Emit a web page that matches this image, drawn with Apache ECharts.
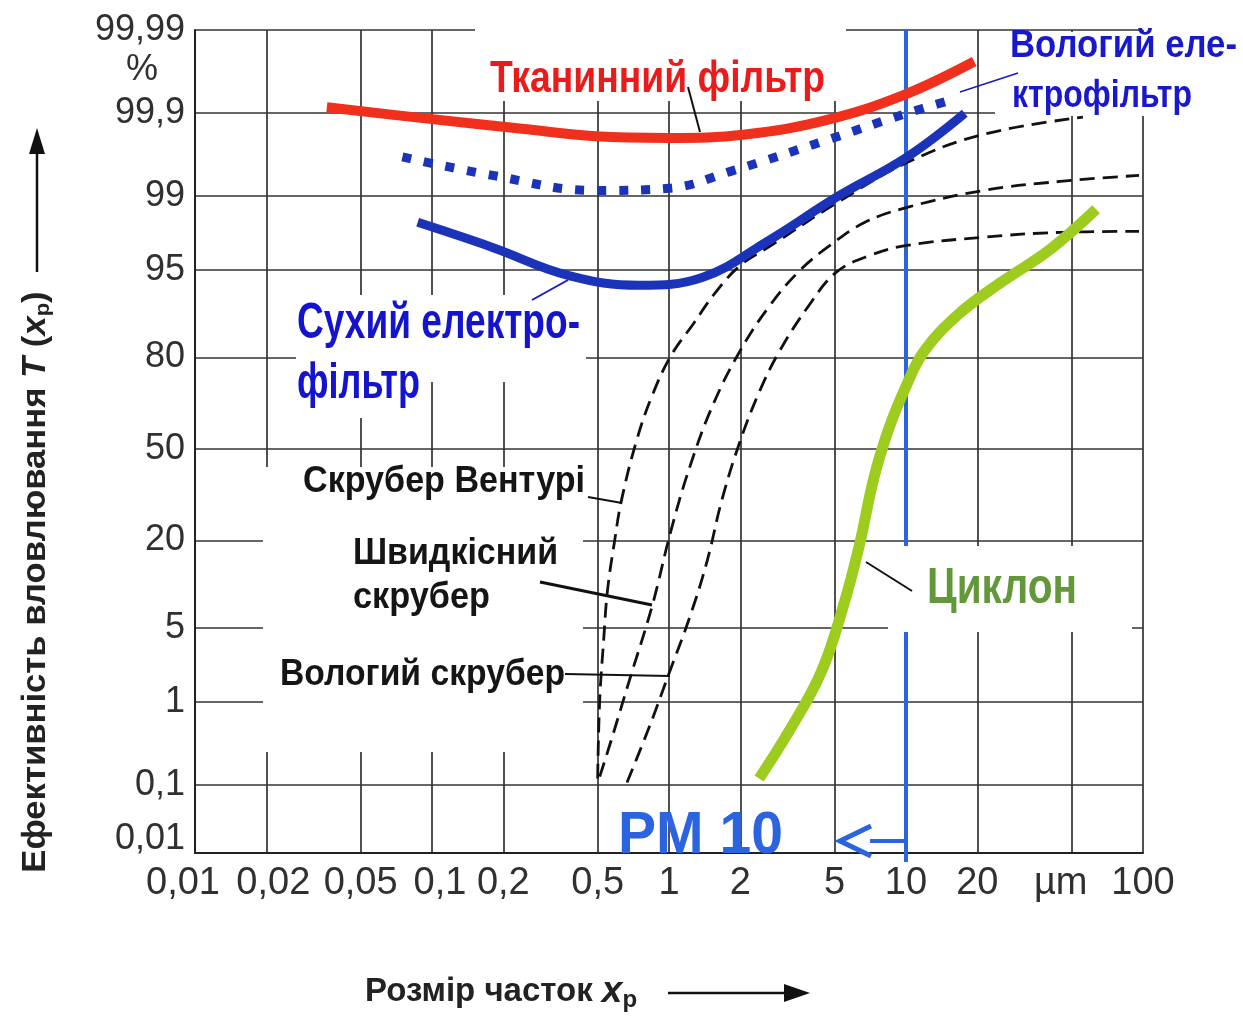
<!DOCTYPE html>
<html><head><meta charset="utf-8">
<script src="https://cdn.jsdelivr.net/npm/echarts@6/dist/echarts.min.js"></script>
<style>html,body{margin:0;padding:0;background:#fff}#c{width:1243px;height:1016px}</style>
</head><body><div id="c"></div><script>
// ---------------- DATA ----------------
const sizeTicks = [0.01, 0.02, 0.05, 0.1, 0.2, 0.5, 1, 2, 5, 10, 20, 50, 100];
const sizeTickLabels = ['0,01', '0,02', '0,05', '0,1', '0,2', '0,5', '1', '2', '5', '10', '20', 'µm', '100'];
const effTicks = [0.01, 0.1, 1, 5, 20, 50, 80, 95, 99, 99.9, 99.99];
const effTickLabels = ['0,01', '0,1', '1', '5', '20', '50', '80', '95', '99', '99,9', '99,99'];

// Тканинний фільтр
const fabricSize = [0.036, 0.10, 0.24, 0.49, 1.0, 2.1, 4.6, 9.7, 19.4];
const fabricEff  = [99.914, 99.88, 99.84, 99.80, 99.79, 99.81, 99.876, 99.937, 99.975];
// Вологий електрофільтр
const wetEspSize = [0.075, 0.18, 0.49, 1.0, 1.86, 4.6, 10.1, 15.6];
const wetEspEff  = [99.64, 99.41, 99.13, 99.18, 99.48, 99.775, 99.90, 99.929];
// Сухий електрофільтр
const dryEspSize = [0.087, 0.18, 0.375, 0.75, 1.38, 2.64, 5.07, 10.1, 17.7];
const dryEspEff  = [98.15, 96.82, 94.50, 93.40, 94.28, 97.26, 98.97, 99.64, 99.90];
// Скрубер Вентурі
const venturiSize = [0.50, 0.51, 0.53, 0.55, 0.59, 0.63, 0.73, 0.85, 1.02, 1.27, 1.56, 2.0, 2.67, 5.07, 10.1, 21.1, 55.8];
const venturiEff  = [0.121, 1.03, 3.9, 9.6, 20, 31.8, 53.1, 68.9, 80.5, 87.6, 92.4, 95.45, 96.9, 98.81, 99.58, 99.81, 99.887];
// Швидкісний скрубер
const highSpeedSize = [0.51, 0.57, 0.68, 0.85, 1.02, 1.23, 1.53, 2.0, 2.67, 3.57, 4.78, 6.71, 10.1, 21.1, 44.7, 96.2];
const highSpeedEff  = [0.128, 0.364, 1.65, 7.48, 22.7, 44.0, 65.6, 81.8, 90.7, 94.99, 96.95, 98.15, 98.69, 99.13, 99.31, 99.41];
// Вологий скрубер
const wetScrubSize = [0.665, 0.83, 1.0, 1.23, 1.45, 1.67, 2.0, 2.42, 2.94, 3.90, 5.07, 7.05, 10.1, 21.1, 44.7, 96.2];
const wetScrubEff  = [0.107, 0.545, 1.94, 6.26, 15.2, 31.8, 53.1, 70.5, 81.8, 90.7, 94.79, 96.26, 96.95, 97.43, 97.69, 97.74];
// Циклон
const cycloneSize = [2.40, 3.24, 4.38, 5.42, 6.34, 7.33, 8.47, 9.91, 11.9, 16.6, 25.2, 40.6, 63.4];
const cycloneEff  = [0.121, 0.49, 1.98, 7.23, 18.5, 39.7, 57.5, 71.1, 81.5, 89.2, 93.74, 96.69, 98.63];
// PM 10 boundary
const pm10Size = 10;

// ---------------- SCALES ----------------
function probit(p){
  const a=[-3.969683028665376e+01,2.209460984245205e+02,-2.759285104469687e+02,1.383577518672690e+02,-3.066479806614716e+01,2.506628277459239e+00];
  const b=[-5.447609879822406e+01,1.615858368580409e+02,-1.556989798598866e+02,6.680131188771972e+01,-1.328068155288572e+01];
  const c=[-7.784894002430293e-03,-3.223964580411365e-01,-2.400758277161838e+00,-2.549732539343734e+00,4.374664141464968e+00,2.938163982698783e+00];
  const d=[7.784695709041462e-03,3.224671290700398e-01,2.445134137142996e+00,3.754408661907416e+00];
  const pl=0.02425, ph=1-pl; let q,r;
  if(p<pl){q=Math.sqrt(-2*Math.log(p));return (((((c[0]*q+c[1])*q+c[2])*q+c[3])*q+c[4])*q+c[5])/((((d[0]*q+d[1])*q+d[2])*q+d[3])*q+1);}
  if(p<=ph){q=p-0.5;r=q*q;return (((((a[0]*r+a[1])*r+a[2])*r+a[3])*r+a[4])*r+a[5])*q/(((((b[0]*r+b[1])*r+b[2])*r+b[3])*r+b[4])*r+1);}
  q=Math.sqrt(-2*Math.log(1-p));return -(((((c[0]*q+c[1])*q+c[2])*q+c[3])*q+c[4])*q+c[5])/((((d[0]*q+d[1])*q+d[2])*q+d[3])*q+1);
}
// probability scale (the chart's top decade 99.9–99.99 is drawn stretched)
const Z999 = probit(0.999), TOP_STRETCH = 1.218;
const U = p => { const z = probit(p / 100); return z > Z999 ? Z999 + (z - Z999) * TOP_STRETCH : z; };
const X = s => Math.log10(s);
const xTickU = sizeTicks.map(X);
const yTickU = effTicks.map(U);
const pts = (sz, ef) => sz.map((s, i) => [X(s), U(ef[i])]);

const FONT = '"Liberation Sans", Arial, sans-serif';
const LBL = '#303030';

const xShift = {'0,01': -12, '0,02': 7, '0,1': 8, 'µm': -11};
const xRich = {};
Object.keys(xShift).forEach((k, i) => {
  const dx = xShift[k];
  xRich['s' + i] = {fontSize: 38, fontFamily: FONT, color: LBL, padding: dx < 0 ? [0, -2 * dx, 0, 0] : [0, 0, 0, 2 * dx]};
});
const xKeys = Object.keys(xShift);

const mk = (name, data, color, width, type, z, smooth) => ({
  type: 'line', name, data, smooth: smooth == null ? 0.4 : smooth, symbol: 'none', showSymbol: false,
  lineStyle: {color, width, type, cap: 'butt', join: 'round'}, z, silent: true, animation: false
});

const chart = echarts.init(document.getElementById('c'));
chart.setOption({
  animation: false,
  backgroundColor: '#fff',
  grid: {left: 195, right: 100, top: 30, bottom: 163, containLabel: false, outerBoundsMode: 'none'},
  xAxis: {
    type: 'value', min: -2, max: 2,
    axisLine: {show: true, onZero: false, lineStyle: {color: '#222', width: 2}},
    axisTick: {show: false, customValues: xTickU},
    axisLabel: {
      customValues: xTickU, fontSize: 38, fontFamily: FONT, color: LBL, margin: 12, rich: xRich,
      formatter: v => {
        const i = xTickU.findIndex(t => Math.abs(t - v) < 1e-6);
        const t = sizeTickLabels[i];
        const k = xKeys.indexOf(t);
        return k >= 0 ? '{s' + k + '|' + t + '}' : t;
      }
    },
    splitLine: {show: true, lineStyle: {color: '#333', width: 1.7}}
  },
  yAxis: {
    type: 'value', min: U(0.01), max: U(99.99),
    axisLine: {show: true, onZero: false, lineStyle: {color: '#222', width: 2}},
    axisTick: {show: false, customValues: yTickU},
    axisLabel: {
      customValues: yTickU, fontSize: 36, fontFamily: FONT, color: LBL, margin: 10,
      rich: {lift: {fontSize: 36, fontFamily: FONT, color: LBL, padding: [0, 0, 28, 0]}},
      formatter: v => {
        const i = yTickU.findIndex(t => Math.abs(t - v) < 1e-6);
        return i === 0 ? '{lift|' + effTickLabels[i] + '}' : effTickLabels[i];
      }
    },
    splitLine: {show: true, lineStyle: {color: '#333', width: 1.7}}
  },
  series: [
    mk('Скрубер Вентурі', pts(venturiSize, venturiEff), '#111', 2.8, [15, 8], 2),
    mk('Швидкісний скрубер', pts(highSpeedSize, highSpeedEff), '#111', 2.8, [15, 8], 2),
    mk('Вологий скрубер', pts(wetScrubSize, wetScrubEff), '#111', 2.8, [15, 8], 2),
    mk('Циклон', pts(cycloneSize, cycloneEff), '#9dcc1e', 11, 'solid', 3),
    mk('Сухий електрофільтр', pts(dryEspSize, dryEspEff), '#1b33b9', 9, 'solid', 4),
    mk('Вологий електрофільтр', pts(wetEspSize, wetEspEff), '#1b33b9', 9, [9, 13], 5),
    mk('Тканинний фільтр', pts(fabricSize, fabricEff), '#f0301c', 10, 'solid', 6)
  ]
});

// ---------------- ANNOTATIONS ----------------
const mctx = document.createElement('canvas').getContext('2d');
function txt(t, x, base, size, w, color, weight) {
  weight = weight || 'bold';
  const font = weight + ' ' + size + 'px "Liberation Sans"';
  mctx.font = font;
  const sx = w / mctx.measureText(t).width;
  return {type: 'text', x, y: base - 0.3465 * size, scaleX: sx, z: 10, silent: true,
    style: {text: t, font, fill: color, align: 'left', verticalAlign: 'middle'}};
}
const rect = (x, y, w, h) => ({type: 'rect', z: 1.5, silent: true, shape: {x, y, width: w, height: h}, style: {fill: '#fff'}});
const seg = (x1, y1, x2, y2, color, lw, z) => ({type: 'line', z: z || 10, silent: true, shape: {x1, y1, x2, y2}, style: {stroke: color, lineWidth: lw}});

const xp = chart.convertToPixel({xAxisIndex: 0}, X(pm10Size));
const yTop = chart.convertToPixel({yAxisIndex: 0}, U(99.99));
const yBot = chart.convertToPixel({yAxisIndex: 0}, U(0.01));
const PMC = '#2c63de';
const BLUE = '#1818cc';

const els = [
  // white boxes behind the labels (interrupt the grid as in the original)
  rect(475, 25, 371, 76),
  rect(995, 32, 248, 84),
  rect(296, 295, 290, 87),
  rect(296, 382, 129, 36),
  rect(263, 467, 320, 285),
  rect(888, 546, 244, 86),
  // PM10 boundary
  seg(xp, yTop, xp, yBot + 9, PMC, 4, 1.2),
  {type: 'polyline', z: 10, silent: true, shape: {points: [[xp - 35, 826], [xp - 66, 841], [xp - 35, 856]]}, style: {stroke: PMC, lineWidth: 5, fill: null}},
  seg(xp - 36, 841, xp, 841, PMC, 4),
  // leader lines
  seg(688, 87, 700, 132, '#111', 2),
  seg(960, 92, 1018, 73, BLUE, 1.5),
  seg(532, 300, 568, 280, BLUE, 2),
  seg(588, 497, 622, 503, '#111', 2),
  seg(540, 582, 652, 605, '#111', 3),
  seg(565, 674, 670, 676, '#111', 2),
  seg(866, 562, 912, 591, '#111', 2),
  // labels
  txt('Тканинний фільтр', 490, 95, 45, 335, '#ea1b1b'),
  txt('Вологий еле-', 1010, 60, 38, 227, BLUE),
  txt('ктрофільтр', 1012, 110, 38, 180, BLUE),
  txt('Сухий електро-', 297, 342, 50, 283, '#1414cf'),
  txt('фільтр', 297, 402, 50, 123, '#1414cf'),
  txt('Циклон', 927, 607, 50, 150, '#63983a'),
  txt('Скрубер Вентурі', 303, 495, 37, 282, '#151515'),
  txt('Швидкісний', 353, 567, 37, 205, '#151515'),
  txt('скрубер', 353, 611, 37, 137, '#151515'),
  txt('Вологий скрубер', 280, 688, 37, 285, '#151515'),
  txt('PM 10', 618, 857, 60, 165, PMC),
  // % unit
  {type: 'text', x: 142, y: 70, z: 10, silent: true, style: {text: '%', font: '36px ' + FONT, fill: LBL, align: 'center', verticalAlign: 'middle'}},
  // y axis title
  {type: 'text', x: 36, y: 582, rotation: Math.PI / 2, scaleX: 1.05, z: 10, silent: true,
    style: {text: '{a|Ефективність вловлювання }{i|T}{a| (}{i|x}{s|p}{a|)}', align: 'center', verticalAlign: 'middle',
      rich: {a: {fontSize: 33, fontWeight: 'bold', fontFamily: FONT, fill: '#222'},
             i: {fontSize: 33, fontWeight: 'bold', fontStyle: 'italic', fontFamily: FONT, fill: '#222'},
             s: {fontSize: 21, fontWeight: 'bold', fontFamily: FONT, fill: '#222', padding: [15, 0, 0, 0]}}}},
  seg(37, 272, 37, 150, '#111', 2.5),
  {type: 'polygon', z: 10, silent: true, shape: {points: [[37, 128], [29, 154], [45, 154]]}, style: {fill: '#111'}},
  // x axis title
  {type: 'text', x: 365, y: 992, z: 10, silent: true,
    style: {text: '{a|Розмір часток }{i|x}{s|p}', align: 'left', verticalAlign: 'middle',
      rich: {a: {fontSize: 33, fontWeight: 'bold', fontFamily: FONT, fill: '#222'},
             i: {fontSize: 37, fontWeight: 'bold', fontStyle: 'italic', fontFamily: FONT, fill: '#222'},
             s: {fontSize: 24, fontWeight: 'bold', fontFamily: FONT, fill: '#222', padding: [16, 0, 0, 0]}}}},
  seg(668, 993, 788, 993, '#111', 2.5),
  {type: 'polygon', z: 10, silent: true, shape: {points: [[810, 993], [784, 984], [784, 1002]]}, style: {fill: '#111'}}
];
chart.setOption({graphic: {elements: els}});
</script></body></html>
